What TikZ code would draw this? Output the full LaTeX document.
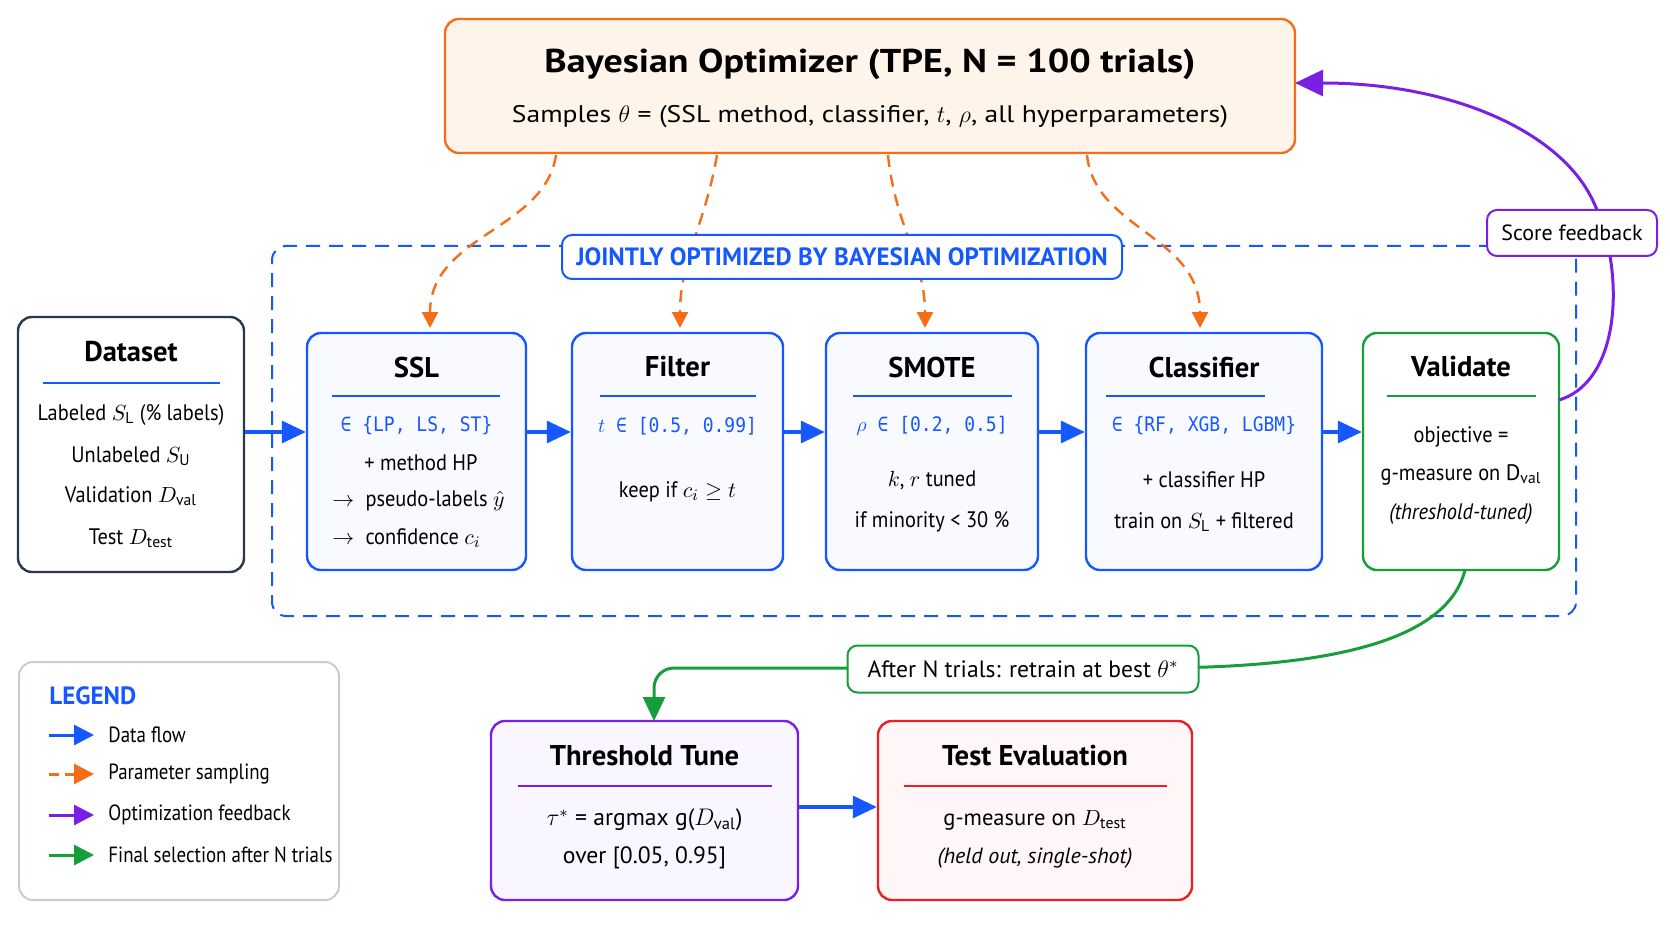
\documentclass[tikz,border=0pt]{standalone}
\usepackage{fontspec}
\setmainfont{PT Sans}
\newfontfamily\monof[FakeStretch=0.9]{DejaVu Sans Mono}
\newfontfamily\narf[FakeStretch=0.91]{PT Sans}
\newfontfamily\legf[FakeStretch=0.86]{PT Sans}
\newfontfamily\widef[FakeStretch=1.15]{PT Sans}
\usetikzlibrary{arrows.meta}
\definecolor{cblue}{RGB}{22,88,255}
\definecolor{corange}{RGB}{247,108,22}
\definecolor{cpurple}{RGB}{122,32,228}
\definecolor{cgreen}{RGB}{22,158,58}
\definecolor{cred}{RGB}{236,30,38}
\definecolor{cdark}{RGB}{42,56,74}
\definecolor{cgray}{RGB}{200,205,212}
\definecolor{forange}{RGB}{255,244,234}
\definecolor{fblue}{RGB}{248,250,255}
\definecolor{fpurple}{RGB}{249,246,255}
\definecolor{fred}{RGB}{255,247,247}
\newcommand\fsTop{\fontsize{16.5}{19}\selectfont\widef\bfseries}
\newcommand\fsHead{\fontsize{14.3}{17}\selectfont\bfseries}
\newcommand\fsBody{\fontsize{11.2}{13}\selectfont\narf}
\newcommand\fsMono{\fontsize{10}{11}\selectfont\monof}
\tikzset{
  box/.style={draw, rounded corners=7pt, line width=1.2pt, inner sep=0pt},
  txt/.style={inner sep=0pt, font=\fsBody, text=black},
  head/.style={inner sep=0pt, font=\fsHead, text=black},
  mono/.style={inner sep=0pt, font=\fsMono, text=cblue},
  legt/.style={inner sep=0pt, font=\fontsize{11}{13}\selectfont\legf, text=black, anchor=west},
  flow/.style={cblue, line width=1.6pt, -{Triangle[length=12pt,width=11pt]}},
  samp/.style={corange, line width=1.2pt, dash pattern=on 6pt off 4pt, -{Triangle[length=8pt,width=8pt]}},
  rule/.style={line width=0.8pt},
}
\begin{document}
\begin{tikzpicture}[x=0.5pt,y=-0.5pt]
\useasboundingbox (0,0) rectangle (1670,941);
% dashed region
\node[box, cblue, dash pattern=on 7pt off 4.5pt, line width=1pt, minimum width=652pt, minimum height=185pt] (region) at (924,431) {};
% top box
\node[box, draw=corange, fill=forange, minimum width=425pt, minimum height=67pt] (top) at (870,86) {};
\node[inner sep=0pt, font=\fsTop] (toptitle) at (870,64) {Bayesian Optimizer (TPE, N = 100 trials)};
\node[inner sep=0pt, font=\fontsize{12}{14}\selectfont\widef] (topsub) at (870,117) {Samples $\theta$ = (SSL method, classifier, $t$, $\rho$, all hyperparameters)};
% sampling arrows
\draw[samp] (556,155) .. controls (545,230) and (430,235) .. (430,328);
\draw[samp] (717,155) .. controls (705,225) and (680,260) .. (680,328);
\draw[samp] (888,155) .. controls (895,225) and (925,260) .. (925,328);
\draw[samp] (1087,155) .. controls (1095,230) and (1200,235) .. (1200,328);
% jointly label
\node[box, draw=cblue, fill=white, line width=1pt, rounded corners=5pt, minimum width=280pt, minimum height=22pt, text=cblue, font=\fontsize{12.5}{14}\selectfont\bfseries] (joint) at (842,257) {JOINTLY OPTIMIZED BY BAYESIAN OPTIMIZATION};
% dataset
\node[box, draw=cdark, fill=white, minimum width=113pt, minimum height=127.5pt] (ds) at (131,444.5) {};
\node[head] (dsh) at (131,352) {Dataset};
\draw[rule, cblue] (43,383) -- (220,383);
\node[txt] (ds1) at (131,415) {Labeled $S_{\mathrm{L}}$ (\% labels)};
\node[txt] (ds2) at (131,456) {Unlabeled $S_{\mathrm{U}}$};
\node[txt] (ds3) at (131,496) {Validation $D_{\mathrm{val}}$};
\node[txt] (ds4) at (131,538) {Test $D_{\mathrm{test}}$};
% SSL
\node[box, draw=cblue, fill=fblue, minimum width=109.5pt, minimum height=118.5pt] (ssl) at (416.5,451.5) {};
\node[head] (sslh) at (416.5,367) {SSL};
\draw[rule, cblue] (332,396) -- (500,396);
\node[mono] (ssl1) at (416.5,426) {∈ \{LP, LS, ST\}};
\node[txt] (ssl2) at (421,463) {+ method HP};
\node[txt, anchor=west] (ssl3) at (332,501) {$\rightarrow$\enspace pseudo-labels $\smash{\hat{y}}$};
\node[txt, anchor=west] (ssl4) at (332,538) {$\rightarrow$\enspace confidence $c_i$};
% Filter
\node[box, draw=cblue, fill=fblue, minimum width=105.5pt, minimum height=118.5pt] (flt) at (677.5,451.5) {};
\node[head] (flth) at (677.5,367) {Filter};
\draw[rule, cblue] (600,396) -- (756,396);
\node[mono] (flt1) at (677.5,426) {$t$ ∈ [0.5, 0.99]};
\node[txt] (flt2) at (677.5,492) {keep if $c_i \geq t$};
% SMOTE
\node[box, draw=cblue, fill=fblue, minimum width=106pt, minimum height=118.5pt] (smo) at (932,451.5) {};
\node[head] (smoh) at (932,367) {SMOTE};
\draw[rule, cblue] (853,396) -- (1012,396);
\node[mono] (smo1) at (932,426) {$\rho$ ∈ [0.2, 0.5]};
\node[txt] (smo2) at (932,480) {$k$, $r$ tuned};
\node[txt] (smo3) at (932,522) {if minority < 30 \%};
% Classifier
\node[box, draw=cblue, fill=fblue, minimum width=118pt, minimum height=118.5pt] (cls) at (1204,451.5) {};
\node[head] (clsh) at (1204,367) {Classifier};
\draw[rule, cblue] (1106,396) -- (1265,396);
\node[mono] (cls1) at (1204,426) {∈ \{RF, XGB, LGBM\}};
\node[txt] (cls2) at (1204,480) {+ classifier HP};
\node[txt] (cls3) at (1204,522) {train on $S_{\mathrm{L}}$ + filtered};
% Validate
\node[box, draw=cgreen, fill=white, minimum width=98pt, minimum height=118.5pt] (val) at (1461,451.5) {};
\node[head] (valh) at (1461,367) {Validate};
\draw[rule, cgreen] (1387,396) -- (1536,396);
\node[txt] (val1) at (1461,437) {objective =};
\node[txt] (val2) at (1461,475) {g-measure on $\mathrm{D}_{\mathrm{val}}$};
\node[txt] (val3) at (1461,514) {\itshape (threshold-tuned)};
% data flow arrows
\coordinate (fy) at (0,432);
\draw[flow] (ds.east |- fy) -- (ssl.west |- fy);
\draw[flow] (ssl.east |- fy) -- (flt.west |- fy);
\draw[flow] (flt.east |- fy) -- (smo.west |- fy);
\draw[flow] (smo.east |- fy) -- (cls.west |- fy);
\draw[flow] (cls.east |- fy) -- (val.west |- fy);
% Threshold and Test
\node[box, draw=cpurple, fill=fpurple, minimum width=153.5pt, minimum height=89.5pt] (thr) at (644.5,810.5) {};
\node[head] (thrh) at (644.5,756) {Threshold Tune};
\draw[rule, cpurple] (518,786) -- (772,786);
\node[txt, font=\fontsize{11.8}{14}\selectfont] (thr1) at (644.5,820) {$\tau^{*}$ = argmax g($D_{\mathrm{val}}$)};
\node[txt, font=\fontsize{11.8}{14}\selectfont] (thr2) at (644.5,858) {over [0.05, 0.95]};
\node[box, draw=cred, fill=fred, minimum width=157pt, minimum height=89.5pt] (tst) at (1035,810.5) {};
\node[head] (tsth) at (1035,756) {Test Evaluation};
\draw[rule, cred] (904,786) -- (1167,786);
\node[txt, font=\fontsize{11.3}{13}\selectfont] (tst1) at (1035,820) {g-measure on $D_{\mathrm{test}}$};
\node[txt, font=\fontsize{11}{13}\selectfont] (tst2) at (1035,858) {\itshape (held out, single-shot)};
\coordinate (fy2) at (0,807);
\draw[flow] (thr.east |- fy2) -- (tst.west |- fy2);
% feedback
\coordinate (fbs) at (1559,400);
\coordinate (fbe) at (1295,83);
\draw[cpurple, line width=1.5pt, -{Triangle[length=14pt,width=13pt]}] (fbs) .. controls (1625,380) and (1625,260) .. (1590,195) .. controls (1555,130) and (1450,83) .. (fbe);
\node[box, draw=cpurple, fill=white, line width=1pt, rounded corners=5pt, minimum width=85pt, minimum height=23pt, font=\fontsize{11}{13}\selectfont] (score) at (1572,233) {Score feedback};
% final selection
\coordinate (gs) at (1465,570);
\coordinate (gm) at (1130,668);
\coordinate (gc) at (654,668);
\coordinate (ge) at (654,721);
\draw[cgreen, line width=1.5pt, rounded corners=10pt, -{Triangle[length=12pt,width=11pt]}] (gs) .. controls (1445,650) and (1300,668) .. (gm) -- (gc) -- (ge);
\node[box, draw=cgreen, fill=white, line width=1pt, rounded corners=5pt, minimum width=175.5pt, minimum height=23.5pt, font=\fontsize{11.8}{14}\selectfont] (after) at (1023,669) {After N trials: retrain at best $\theta^{*}$};
% legend
\node[box, draw=cgray, fill=white, line width=1pt, minimum width=160pt, minimum height=119pt] (leg) at (179,781) {};
\node[inner sep=0pt, anchor=west, text=cblue, font=\fontsize{12.5}{15}\selectfont\bfseries] (legh) at (49,696) {LEGEND};
\coordinate (l1a) at (49,735); \coordinate (l1b) at (94,735);
\coordinate (l2a) at (49,774); \coordinate (l2b) at (94,774);
\coordinate (l3a) at (49,815); \coordinate (l3b) at (94,815);
\coordinate (l4a) at (49,855); \coordinate (l4b) at (94,855);
\draw[cblue, line width=1.5pt, -{Triangle[length=10pt,width=10pt]}] (l1a) -- (l1b);
\draw[corange, line width=1.5pt, dash pattern=on 5pt off 3pt, -{Triangle[length=10pt,width=10pt]}] (l2a) -- (l2b);
\draw[cpurple, line width=1.5pt, -{Triangle[length=10pt,width=10pt]}] (l3a) -- (l3b);
\draw[cgreen, line width=1.5pt, -{Triangle[length=10pt,width=10pt]}] (l4a) -- (l4b);
\node[legt] (lt1) at (108,735) {Data flow};
\node[legt] (lt2) at (108,774) {Parameter sampling};
\node[legt] (lt3) at (108,815) {Optimization feedback};
\node[legt] (lt4) at (108,855) {Final selection after N trials};
\end{tikzpicture}
\end{document}
